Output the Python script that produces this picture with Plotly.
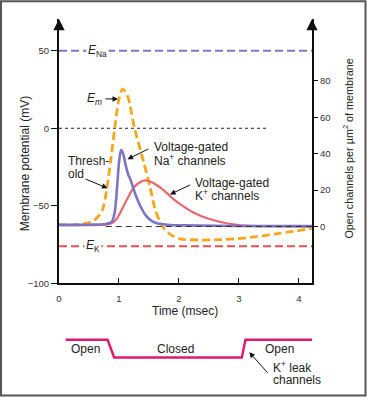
import plotly.graph_objects as go

# ---------------- data ----------------
time_em = [0, 0.3, 0.5, 0.61, 0.72, 0.8, 0.86, 0.93, 1.0, 1.06, 1.11, 1.16, 1.26,
           1.41, 1.52, 1.61, 1.69, 1.76, 1.86, 2.02, 2.35, 2.65, 2.96, 3.3, 3.62, 3.9, 4.22]
em_mv = [-62.3, -62.0, -60.8, -58.5, -53.1, -38.3, -21.4, 0, 18.9, 25.2, 23.5, 18.9, 0,
         -21.4, -38.3, -53.1, -60.5, -65, -68.5, -71.2, -72, -71.8, -71.2, -69.8, -68, -66.5, -64.5]

time_na = [0, 0.5, 0.78, 0.88, 0.93, 0.97, 1.0, 1.035, 1.07, 1.11, 1.16, 1.19, 1.25, 1.3,
           1.36, 1.45, 1.55, 1.65, 1.8, 2.1, 3.0, 4.22]
na_open = [0.9, 1.0, 1.4, 2.5, 8, 22, 35, 42, 40, 34, 28, 26, 20, 15.5,
           11, 6, 3, 1.6, 1.0, 0.6, 0.3, 0.2]

time_k = [0, 0.8, 0.9, 0.97, 1.05, 1.135, 1.245, 1.356, 1.44, 1.55, 1.69, 1.8, 1.91,
          2.02, 2.24, 2.51, 2.79, 3.13, 3.5, 4.22]
k_open = [0.9, 1.1, 2.2, 4.5, 9.5, 15, 21.3, 24.5, 25.3, 24.3, 21.3, 18.3, 15,
          12.3, 7.7, 4.1, 1.8, 0.5, 0.2, 0.1]

E_NA = 50
E_K = -76
zero_line_t = [0, 3.46]
rest_line_t = [0.78, 4.22]

leak_time = [0.11, 0.81, 0.92, 3.05, 3.11, 4.23]
leak_state = [1, 1, 0, 0, 1, 1]

x_ticks = [0, 1, 2, 3, 4]
y_ticks = [-100, -50, 0, 50]
y_tick_text = ["\u2212100", "\u221250", "0", "50"]
y2_ticks = [0, 20, 40, 60, 80]

# ---------------- colours ----------------
ORANGE = "#F9A61A"
PURPLE = "#7C74C4"
RED = "#F0646B"
NA_LINE = "#7F76C9"
K_LINE = "#E8504F"
LEAK = "#E2186F"
FONT = "Liberation Sans, Arial, Helvetica, sans-serif"

fig = go.Figure()

fig.add_trace(go.Scatter(x=time_k, y=k_open, yaxis="y2", mode="lines",
                         line=dict(color=RED, width=2.2, shape="spline", smoothing=0.8),
                         hoverinfo="skip"))
fig.add_trace(go.Scatter(x=time_na, y=na_open, yaxis="y2", mode="lines",
                         line=dict(color=PURPLE, width=2.6, shape="spline", smoothing=0.8),
                         hoverinfo="skip"))
fig.add_trace(go.Scatter(x=time_em, y=em_mv, yaxis="y", mode="lines",
                         line=dict(color=ORANGE, width=2.8, dash="8px,4px",
                                   shape="spline", smoothing=0.8),
                         hoverinfo="skip"))
fig.add_trace(go.Scatter(x=leak_time, y=leak_state, xaxis="x", yaxis="y3", mode="lines",
                         line=dict(color=LEAK, width=2.4), hoverinfo="skip", cliponaxis=False))

shapes = [
    dict(type="line", xref="x", yref="y", x0=0, x1=4.22, y0=E_NA, y1=E_NA,
         line=dict(color=NA_LINE, width=2, dash="8px,4px"), layer="below"),
    dict(type="line", xref="x", yref="y", x0=0, x1=4.22, y0=E_K, y1=E_K,
         line=dict(color=K_LINE, width=2, dash="8px,4px"), layer="below"),
    dict(type="line", xref="x", yref="y", x0=zero_line_t[0], x1=zero_line_t[1], y0=0, y1=0,
         line=dict(color="#222", width=1, dash="3px,3px"), layer="below"),
    dict(type="line", xref="x", yref="y2", x0=rest_line_t[0], x1=rest_line_t[1], y0=0, y1=0,
         line=dict(color="#333", width=1.2, dash="6px,4px"), layer="above"),
    # outer frame
    dict(type="rect", xref="paper", yref="paper", x0=-0.2292, x1=1.2115, y0=-0.0013, y1=1.0472,
         line=dict(color="#555", width=2), fillcolor="rgba(0,0,0,0)", layer="above"),
]

ann = []
def txt(x, y, text, xref="x", yref="y", size=12, xanchor="center", yanchor="middle",
        bg=None, angle=0):
    d = dict(x=x, y=y, xref=xref, yref=yref, text=text, showarrow=False,
             font=dict(family=FONT, size=size, color="#222"),
             xanchor=xanchor, yanchor=yanchor, textangle=angle)
    if bg:
        d.update(bgcolor=bg, borderpad=1)
    ann.append(d)

def arrow(x, y, ax, ay, xref="x", yref="y", head=2, size=1.1, width=1.0, color="#111"):
    ann.append(dict(x=x, y=y, xref=xref, yref=yref, ax=ax, ay=ay, text="",
                    showarrow=True, arrowhead=head, arrowsize=size, arrowwidth=width,
                    arrowcolor=color, standoff=0))

# equilibrium labels
txt(0.65, E_NA, "<i>E</i><sub>Na</sub>", size=12, bg="white")
txt(0.57, E_K, "<i>E</i><sub>K</sub>", size=12, bg="white")
# E_m
txt(0.59, 18.9, "<i>E<sub>m</sub></i>", size=12)
arrow(0.984, 18.9, -14, 0)
# Threshold
txt(0.117, -21.2, "Thresh-", xanchor="left", size=12)
txt(0.117, -29.4, "old", xanchor="left", size=12)
arrow(0.809, -38.6, -23.5, -9.8)
# Na channels
txt(1.546, -12.3, "Voltage-gated", xanchor="left", size=12)
txt(1.546, -20.3, "Na<sup>+</sup> channels", xanchor="left", size=12)
arrow(1.143, -19.9, 22.5, -11)
# K channels
txt(2.235, -35.1, "Voltage-gated", xanchor="left", size=12)
txt(2.235, -43.0, "K<sup>+</sup> channels", xanchor="left", size=12)
arrow(1.852, -42.6, 21.7, -10.2)

# axis titles
txt(-0.134, -23.1, "Membrane potential (mV)", xref="paper", yref="y", size=12, angle=-90)
txt(1.1435, 43, "Open channels per \u00b5m<sup>2</sup> of membrane", xref="paper", yref="y2",
    size=10.8, angle=-90)
txt(2.1, 0.223, "Time (msec)", xref="x", yref="paper", size=12)

# leak channel diagram labels
txt(0.45, 0.5, "Open", yref="y3", size=12)
txt(1.94, 0.5, "Closed", yref="y3", size=12)
txt(3.68, 0.5, "Open", yref="y3", size=12)
txt(3.53, 0.0735, "K<sup>+</sup> leak", yref="paper", xanchor="left", size=12)
txt(3.53, 0.040, "channels", yref="paper", xanchor="left", size=12)
arrow(3.174, 0.294, 19.7, 22, yref="y3")

# axis arrowheads
arrow(0, 1, 0, 12, xref="x", yref="paper", head=2, size=1.4, width=1.6)
arrow(1, 1, 0, 12, xref="paper", yref="paper", head=2, size=1.4, width=1.6)

tickfont = dict(family=FONT, size=9.5, color="#333")
fig.update_layout(
    width=367, height=403,
    margin=dict(l=59, r=55, t=19, b=3),
    paper_bgcolor="white", plot_bgcolor="white",
    showlegend=False,
    font=dict(family=FONT),
    shapes=shapes, annotations=ann,
    xaxis=dict(range=[0, 4.22], showgrid=False, zeroline=False, showline=True,
               linecolor="#111", linewidth=2, ticks="inside", ticklen=5, tickwidth=1,
               tickcolor="#111", tickvals=x_ticks, tickfont=tickfont,
               ticklabelstandoff=5, anchor="y"),
    yaxis=dict(domain=[0.2966, 1], range=[-100, 70.4], showgrid=False, zeroline=False,
               showline=True, linecolor="#111", linewidth=2, ticks="outside", ticklen=6,
               tickwidth=1, tickcolor="#111", tickvals=y_ticks, ticktext=y_tick_text,
               tickfont=tickfont),
    yaxis2=dict(overlaying="y", side="right", anchor="x", range=[-31.3, 114],
                showgrid=False, zeroline=False, showline=True, linecolor="#111",
                linewidth=2, ticks="outside", ticklen=4, tickwidth=1, tickcolor="#111",
                tickvals=y2_ticks, tickfont=tickfont),
    yaxis3=dict(domain=[0.0903, 0.1564], range=[-0.2, 1.2], visible=False, anchor="x"),
)

fig.write_html("out.html",
               config={"displayModeBar": False, "staticPlot": True},
               post_script="document.body.style.margin='0';document.body.style.overflow='hidden';")
